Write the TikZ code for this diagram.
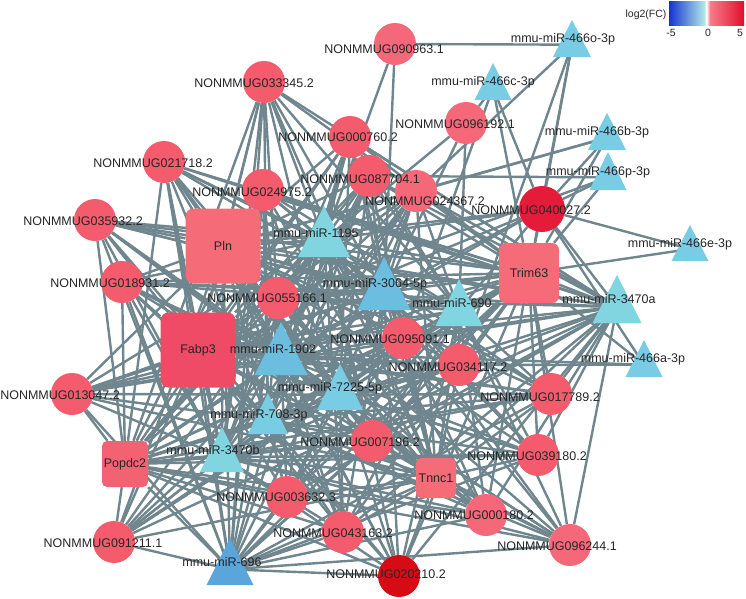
\documentclass[tikz,border=0pt]{standalone}
\usepackage{fontspec}
\setmainfont{Liberation Sans}
\usetikzlibrary{backgrounds}
\definecolor{edgec}{HTML}{6F868E}
\definecolor{cir}{HTML}{F45C6E}
\definecolor{cirl}{HTML}{F5687A}
\definecolor{cird}{HTML}{E41C3A}
\definecolor{cirdd}{HTML}{D60C14}
\definecolor{sqa}{HTML}{F56B78}
\definecolor{sqb}{HTML}{F04B66}
\definecolor{sqc}{HTML}{F36272}
\definecolor{tcy}{HTML}{80D5E1}
\definecolor{tsk}{HTML}{78CCE3}
\definecolor{tbl}{HTML}{6CBEE0}
\definecolor{tdb}{HTML}{5AA6DA}
\definecolor{lgb}{HTML}{1434D2}
\definecolor{lgc}{HTML}{AEE6E6}
\definecolor{lgp}{HTML}{F87C8A}
\definecolor{lgr}{HTML}{E00E2C}
\newcommand{\mytri}[6]{%
  \fill[#6] ({#2-#5/2},#4) -- (#2,#3) -- ({#2+#5/2},#4) -- cycle;
  \coordinate (#1) at (#2,{(#3+2*#4)/3});
}
\tikzset{
  cnode/.style={circle, inner sep=0pt, minimum size=42pt, fill=#1},
  snode/.style={rectangle, inner sep=0pt, fill=#1, text=black!85},
  lbl/.style={inner sep=0pt, text=black!85, font=\fontsize{12.5}{14}\selectfont},
  lgt/.style={inner sep=0pt, text=black!85, font=\fontsize{10.5}{12}\selectfont},
  edge/.style={draw=edgec, line width=2.4pt}
}
\begin{document}
\begin{tikzpicture}[x=1pt, y=-1pt]
\useasboundingbox (0,0) rectangle (746,598);
% circles
\node[cnode=cir]  (c033345) at (264,82) {};
\node[cnode=cirl] (c090963) at (395,44) {};
\node[cnode=cir]  (c000760) at (350,137) {};
\node[cnode=cirl] (c096192) at (466,123) {};
\node[cnode=cir]  (c021718) at (164,162) {};
\node[cnode=cir]  (c024975) at (263,190) {};
\node[cnode=cir]  (c087704) at (369,176) {};
\node[cnode=cirl] (c024367) at (416,191) {};
\node[cnode=cird, minimum size=46pt] (c040027) at (542,209) {};
\node[cnode=cir]  (c035932) at (95,220) {};
\node[cnode=cir]  (c018931) at (122,282) {};
\node[cnode=cir]  (c055166) at (278,298) {};
\node[cnode=cir]  (c013047) at (72,394) {};
\node[cnode=cir]  (c095091) at (403,338) {};
\node[cnode=cir]  (c034117) at (459,365) {};
\node[cnode=cir]  (c017789) at (551,394) {};
\node[cnode=cir]  (c039180) at (538,455) {};
\node[cnode=cir]  (c007196) at (372,441) {};
\node[cnode=cir]  (c003632) at (287,497) {};
\node[cnode=cir]  (c043163) at (343,532) {};
\node[cnode=cirl] (c000180) at (486,515) {};
\node[cnode=cirl] (c096244) at (570,545) {};
\node[cnode=cirdd] (c020210) at (399,576) {};
\node[cnode=cir]  (c091211) at (114,542) {};
% squares
\node[snode=sqa, minimum size=75pt, rounded corners=8pt, lbl] (sPln) at (223,246) {Pln};
\node[snode=sqb, minimum size=75pt, rounded corners=8pt, lbl] (sFabp3) at (198,350) {Fabp3};
\node[snode=sqa, minimum size=60pt, rounded corners=7pt, lbl] (sTrim63) at (529,273) {Trim63};
\node[snode=sqc, minimum size=46pt, rounded corners=5pt, lbl] (sPopdc2) at (125,464) {Popdc2};
\node[snode=sqa, minimum size=40pt, rounded corners=5pt, lbl] (sTnnc1) at (436,478) {Tnnc1};
% triangles: name, x, apex y, base y, width, colour
\mytri{t466o}{572}{20}{57}{38}{tsk}
\mytri{t466c}{493}{63}{100}{37}{tsk}
\mytri{t466b}{607}{113}{150}{38}{tsk}
\mytri{t466p}{608}{152}{190}{37}{tsk}
\mytri{t466e}{690}{225}{261}{37}{tsk}
\mytri{t3470a}{617}{275}{323}{49}{tcy}
\mytri{t466a}{644}{340}{377}{37}{tsk}
\mytri{t690}{459}{279}{326}{47}{tcy}
\mytri{t3064}{384}{257}{310}{53}{tbl}
\mytri{t1195}{324}{206}{257}{52}{tcy}
\mytri{t1902}{281}{322}{375}{53}{tbl}
\mytri{t7225}{340}{364}{410}{46}{tsk}
\mytri{t708}{268}{393}{434}{40}{tsk}
\mytri{t3470b}{222}{427}{472}{44}{tcy}
\mytri{t696}{230}{538}{585}{47}{tdb}
% labels
\node[lbl] (l033345) at (254,83) {NONMMUG033345.2};
\node[lbl] (l090963) at (384,49) {NONMMUG090963.1};
\node[lbl] (l000760) at (338,137) {NONMMUG000760.2};
\node[lbl] (l096192) at (455,124) {NONMMUG096192.1};
\node[lbl] (l021718) at (153,163) {NONMMUG021718.2};
\node[lbl] (l024975) at (252,192) {NONMMUG024975.2};
\node[lbl] (l087704) at (360,179) {NONMMUG087704.1};
\node[lbl] (l024367) at (425,201) {NONMMUG024367.2};
\node[lbl] (l040027) at (531,210) {NONMMUG040027.2};
\node[lbl] (l035932) at (83,221) {NONMMUG035932.2};
\node[lbl] (l018931) at (110,283) {NONMMUG018931.2};
\node[lbl] (l055166) at (267,298) {NONMMUG055166.1};
\node[lbl] (l013047) at (60,395) {NONMMUG013047.2};
\node[lbl] (l095091) at (390,339) {NONMMUG095091.1};
\node[lbl] (l034117) at (448,367) {NONMMUG034117.2};
\node[lbl] (l017789) at (540,397) {NONMMUG017789.2};
\node[lbl] (l039180) at (527,456) {NONMMUG039180.2};
\node[lbl] (l007196) at (360,442) {NONMMUG007196.2};
\node[lbl] (l003632) at (276,497) {NONMMUG003632.3};
\node[lbl] (l043163) at (333,533) {NONMMUG043163.2};
\node[lbl] (l000180) at (474,515) {NONMMUG000180.2};
\node[lbl] (l096244) at (557,546) {NONMMUG096244.1};
\node[lbl] (l020210) at (386,574) {NONMMUG020210.2};
\node[lbl] (l091211) at (103,543) {NONMMUG091211.1};
\node[lbl] (l466o) at (563,39) {mmu-miR-466o-3p};
\node[lbl] (l466c) at (483,82) {mmu-miR-466c-3p};
\node[lbl] (l466b) at (597,132) {mmu-miR-466b-3p};
\node[lbl] (l466p) at (598,172) {mmu-miR-466p-3p};
\node[lbl] (l466e) at (680,244) {mmu-miR-466e-3p};
\node[lbl] (l3470a) at (609,299) {mmu-miR-3470a};
\node[lbl] (l466a) at (633,359) {mmu-miR-466a-3p};
\node[lbl] (l690) at (452,303) {mmu-miR-690};
\node[lbl] (l3064) at (375,284) {mmu-miR-3064-5p};
\node[lbl] (l1195) at (316,233) {mmu-miR-1195};
\node[lbl] (l1902) at (273,349) {mmu-miR-1902};
\node[lbl] (l7225) at (330,388) {mmu-miR-7225-5p};
\node[lbl] (l708) at (259,415) {mmu-miR-708-3p};
\node[lbl] (l3470b) at (213,450) {mmu-miR-3470b};
\node[lbl] (l696) at (222,562) {mmu-miR-696};
% legend
\shade[left color=lgb, right color=lgc] (669,1) rectangle (704,25);
\shade[left color=lgc, right color=white] (704,1) rectangle (706.5,25);
\shade[left color=white, right color=lgp] (706.5,1) rectangle (710,25);
\shade[left color=lgp, right color=lgr] (710,1) rectangle (744,25);
\coordinate (lgbar) at (706,13);
\node[lgt] (lgtitle) at (646,15) {log2(FC)};
\node[lgt] (lgm5) at (671,33) {-5};
\node[lgt] (lg0) at (708,33) {0};
\node[lgt] (lg5) at (740,33) {5};
% edges
\begin{scope}[on background layer]
\foreach \m in {t1195,t3064,t690,t1902,t7225,t708,t3470b,t696,t3470a,sPln,sFabp3,sTrim63,sPopdc2,sTnnc1} {
  \foreach \n in {c033345,c000760,c021718,c024975,c087704,c024367,c035932,c018931,c055166,c013047,c095091,c034117,c017789,c039180,c007196,c003632,c043163,c000180,c096244,c020210,c091211} {
    \draw[edge] (\m) -- (\n);
  }
}
\foreach \m in {t1195,t3064,t690,t1902,t7225,t708,t3470b,t696,t3470a} {
  \foreach \n in {sPln,sFabp3,sTrim63,sPopdc2,sTnnc1} {
    \draw[edge] (\m) -- (\n);
  }
}
\foreach \n in {c090963,sTrim63,c040027,c024367,c034117} {\draw[edge] (t466o) -- (\n);}
\foreach \n in {c096192,sTrim63,c040027,c095091} {\draw[edge] (t466c) -- (\n);}
\foreach \n in {c024367,sPln,sTrim63,c040027} {\draw[edge] (t466b) -- (\n);}
\foreach \n in {sTrim63,c040027,c087704,c055166} {\draw[edge] (t466p) -- (\n);}
\foreach \n in {c040027,sTrim63} {\draw[edge] (t466e) -- (\n);}
\foreach \n in {sTrim63,c040027,c034117,sFabp3} {\draw[edge] (t466a) -- (\n);}
\foreach \n in {t1195,t3064} {\draw[edge] (c090963) -- (\n);}
\foreach \n in {t1195,t3064,t690} {\draw[edge] (c096192) -- (\n);}
\foreach \n in {t3470a,t690,t3064,t1195,t1902,sPln,sFabp3,sTrim63} {\draw[edge] (c040027) -- (\n);}
\end{scope}
\end{tikzpicture}
\end{document}
